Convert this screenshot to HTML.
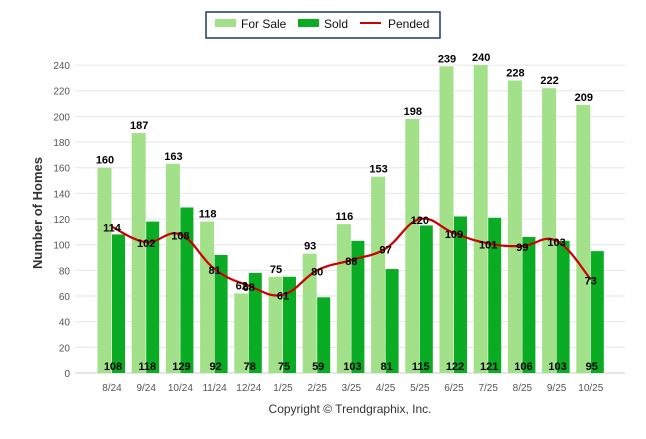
<!DOCTYPE html>
<html><head><meta charset="utf-8"><style>
body{margin:0;background:#fff;width:646px;height:434px;overflow:hidden;font-family:"Liberation Sans",sans-serif}
svg text{font-family:"Liberation Sans",sans-serif}
</style></head><body>
<svg id="c" width="646" height="434" xmlns="http://www.w3.org/2000/svg">
<g>
<rect x="206" y="12" width="234" height="26" fill="#fff" stroke="#1f3864" stroke-width="1.5"/>
<rect x="215" y="19" width="21" height="8" fill="#a2e08a"/>
<text x="241" y="28" font-size="12" fill="#111">For Sale</text>
<rect x="298" y="19" width="21" height="8" fill="#0aac24"/>
<text x="324" y="28" font-size="12" fill="#111">Sold</text>
<line x1="360" y1="23" x2="381" y2="23" stroke="#cc0000" stroke-width="2"/>
<text x="388" y="28" font-size="12" fill="#111">Pended</text>
</g>
<text transform="translate(42,213) rotate(-90)" text-anchor="middle" font-size="13" font-weight="bold" fill="#333">Number of Homes</text>
<text x="350" y="413" text-anchor="middle" font-size="12" fill="#333">Copyright © Trendgraphix, Inc.</text>
<g id="grid"></g><g id="bars"></g><g id="line"></g><g id="labels"></g>
</svg>
<script>
const categories=["8/24","9/24","10/24","11/24","12/24","1/25","2/25","3/25","4/25","5/25","6/25","7/25","8/25","9/25","10/25"];
const forSale=[160,187,163,118,62,75,93,116,153,198,239,240,228,222,209];
const sold=[108,118,129,92,78,75,59,103,81,115,122,121,106,103,95];
const pended=[114,102,108,81,68,61,80,88,97,120,109,101,99,103,73];
const yTicks=[0,20,40,60,80,100,120,140,160,180,200,220,240];
const NS="http://www.w3.org/2000/svg";
const y0=373,k=1.283,x0=112,dx=34.2;
const Y=v=>y0-v*k, X=i=>x0+i*dx;
function mk(t,a,p,txt){const e=document.createElementNS(NS,t);for(const n in a)e.setAttribute(n,a[n]);if(txt!==undefined)e.textContent=txt;document.getElementById(p).appendChild(e);return e;}
yTicks.forEach(v=>{
 const l=mk('line',{x1:75,x2:625,y1:Y(v),y2:Y(v),stroke:v===0?'#ccc':'#e6e6e6','stroke-width':1},'grid');
 
 
 const t=mk('text',{x:70,y:Y(v)+4,'text-anchor':'end','font-size':10,fill:'#555'},'grid',v);
 
 
});
categories.forEach((c,i)=>{
 const t=mk('text',{x:X(i),y:391,'text-anchor':'middle','font-size':10,fill:'#555'},'grid',c);
 
 
 const b1=mk('rect',{x:X(i)-14.5,y:Y(forSale[i]),width:14,height:forSale[i]*k,fill:'#a2e08a'},'bars');
 
 
 const b2=mk('rect',{x:X(i),y:Y(sold[i]),width:13,height:sold[i]*k,fill:'#0aac24'},'bars');
 
 
 const l1=mk('text',{x:X(i)-7,y:Y(forSale[i])-4,'text-anchor':'middle','font-size':11,'font-weight':'bold',fill:'#000'},'labels',forSale[i]);
 
 
 const l2=mk('text',{x:X(i)+1,y:370,'text-anchor':'middle','font-size':11,'font-weight':'bold',fill:'#000'},'labels',sold[i]);
 
 
 const l3=mk('text',{x:X(i),y:Y(pended[i])+5,'text-anchor':'middle','font-size':11,'font-weight':'bold',fill:'#000'},'labels',pended[i]);
 
 
});
// smooth line (Catmull-Rom)
const pts=pended.map((v,i)=>[X(i),Y(v)]);
let d='M'+pts[0][0]+','+pts[0][1];
for(let i=0;i<pts.length-1;i++){
 const p0=pts[Math.max(0,i-1)],p1=pts[i],p2=pts[i+1],p3=pts[Math.min(pts.length-1,i+2)];
 const s=0.2;
 d+=' C'+(p1[0]+(p2[0]-p0[0])*s)+','+(p1[1]+(p2[1]-p0[1])*s)+' '+(p2[0]-(p3[0]-p1[0])*s)+','+(p2[1]-(p3[1]-p1[1])*s)+' '+p2[0]+','+p2[1];
}
const pl=mk('path',{d:d,fill:'none',stroke:'#cc0000','stroke-width':2.2},'line');


</script>
</body></html>
